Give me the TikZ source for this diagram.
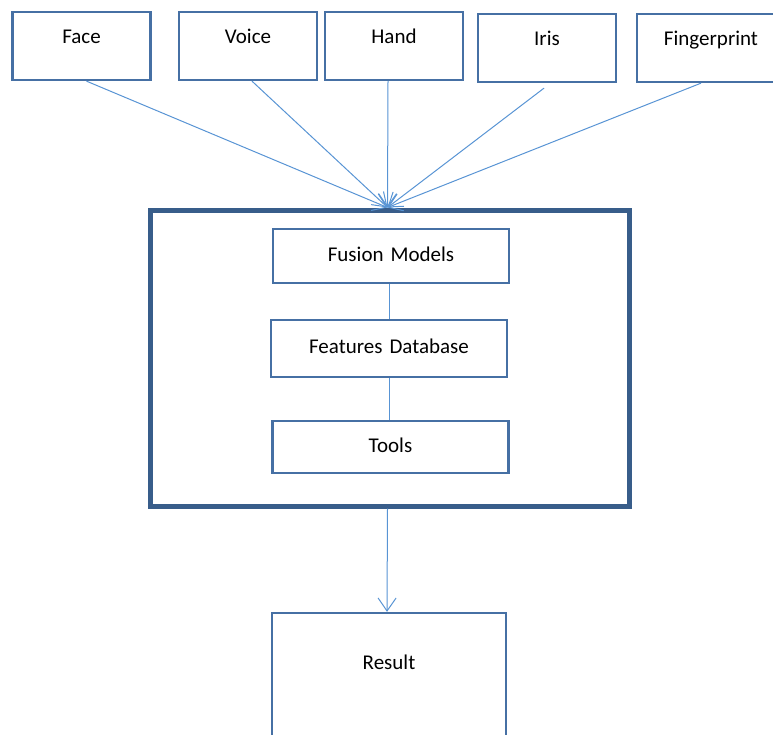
\documentclass[tikz,border=0pt]{standalone}
\usepackage{fontspec}
\setmainfont{Carlito}
\usetikzlibrary{arrows.meta}

\definecolor{boxblue}{RGB}{70,112,164}
\definecolor{coreblue}{RGB}{56,93,138}
\definecolor{linkblue}{RGB}{88,148,212}

\tikzset{
  sensor/.style={draw=boxblue, line width=2.3pt, inner sep=0pt, align=center, text width=138pt, text height=31pt, text depth=37pt, font=\fontsize{21}{25}\selectfont},
  stage/.style={draw=boxblue, line width=2.3pt, inner sep=0pt, align=center, text width=236pt, minimum height=54pt, text height=14pt, text depth=4pt, font=\fontsize{21}{25}\selectfont},
  link/.style={draw=linkblue, line width=1pt},
  feed/.style={link, -{Straight Barb[length=13pt,width=18pt]}},
}

\begin{document}
\begin{tikzpicture}[x=1pt,y=-1pt]
\useasboundingbox (0,0) rectangle (773,734);
% sources
\node[sensor] (face) at (81.5,46) {Face};
\node[sensor] (voice) at (248,46) {Voice};
\node[sensor] (hand) at (394,46) {Hand};
\node[sensor] (iris) at (547,48) {Iris};
\node[sensor, text width=148pt] (finger) at (711,48) {Fingerprint};
% core block
\node[draw=coreblue, line width=5pt, inner sep=0pt, minimum width=479pt, minimum height=296pt] (core) at (389.5,358) {};
\node[stage] (fusion) at (391,256) {Fusion Models};
\node[stage, minimum height=57pt] (features) at (389,348.5) {Features Database};
\node[stage, minimum height=52pt] (tools) at (390.5,447) {Tools};
\node[sensor, text width=234pt, text height=56pt, text depth=74pt] (result) at (389,678) {Result};
\coordinate (hub) at ([xshift=-2pt]core.north);
% connectors
\draw[feed] ([xshift=5pt]face.south) -- (hub);
\draw[feed] ([xshift=4pt]voice.south) -- (hub);
\draw[feed] ([xshift=-6pt]hand.south) -- (hub);
\draw[feed] ([xshift=-3pt,yshift=-5pt]iris.south) -- (hub);
\draw[feed] ([xshift=-10pt]finger.south) -- (hub);
\draw[link] (features.north |- fusion.south) -- (features.north);
\draw[link] (features.south) -- (features.south |- tools.north);
\draw[feed] ([xshift=-2pt]core.south) -- ([xshift=-2pt]result.north);
\end{tikzpicture}
\end{document}
